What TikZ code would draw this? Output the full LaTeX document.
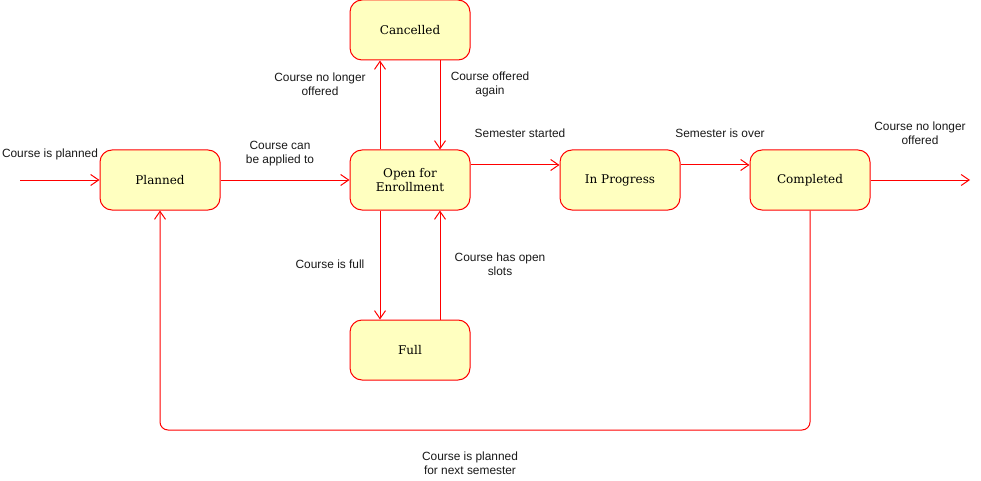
\documentclass[tikz,border=0pt]{standalone}
\usepackage{fontspec}
\setmainfont{DejaVu Serif}
\newfontfamily\lblfont{Liberation Sans}
\usetikzlibrary{arrows.meta}
\definecolor{stred}{HTML}{FF0000}
\definecolor{stfill}{HTML}{FFFFC0}
\tikzset{
  x=1pt, y=-1pt,
  state/.style={draw=stred, fill=stfill, line width=1pt, rounded corners=12pt,
    minimum width=120pt, minimum height=60pt, inner sep=0pt, align=center,
    font=\fontsize{12}{14}\selectfont},
  arr/.style={draw=stred, line width=1pt, -{Straight Barb[length=8pt,width=11pt]}},
  lbl/.style={align=center, inner sep=0pt, font=\lblfont\fontsize{11.9}{14}\selectfont, text=black!90}
}
\begin{document}
\begin{tikzpicture}
\useasboundingbox (0,0) rectangle (981,481);
\node[state] (plan) at (160,180) {Planned};
\node[state] (open) at (410,180) {Open for\\Enrollment};
\node[state] (canc) at (410,30) {Cancelled};
\node[state] (full) at (410,350) {Full};
\node[state] (prog) at (620,180) {In Progress};
\node[state] (comp) at (810,180) {Completed};
\coordinate (init) at (20,180);
\coordinate (fin) at (970,180);
\coordinate (bot) at (0,430);

\draw[arr] (init) -- (plan);
\draw[arr] (plan) -- (open);
\draw[arr] ([xshift=-30pt]open.north) -- ([xshift=-30pt]canc.south);
\draw[arr] ([xshift=30pt]canc.south) -- ([xshift=30pt]open.north);
\draw[arr] ([xshift=-30pt]open.south) -- ([xshift=-30pt]full.north);
\draw[arr] ([xshift=30pt]full.north) -- ([xshift=30pt]open.south);
\draw[arr] ([yshift=15pt]open.east) -- ([yshift=15pt]prog.west);
\draw[arr] ([yshift=15pt]prog.east) -- ([yshift=15pt]comp.west);
\draw[arr] (comp.east) -- (fin);
\draw[arr, rounded corners=8pt] (comp.south) -- (comp.south |- bot) -- (plan.south |- bot) -- (plan.south);

\node[lbl] (l1) at (50,154) {Course is planned};
\node[lbl] (l2) at (280,153.5) {Course can\\be applied to};
\node[lbl] (l3) at (320,84) {Course no longer\\offered};
\node[lbl] (l4) at (490,84) {Course offered\\again};
\node[lbl] (l5) at (520,133) {Semester started};
\node[lbl] (l6) at (720,133) {Semester is over};
\node[lbl] (l7) at (920,133.5) {Course no longer\\offered};
\node[lbl] (l8) at (330,264) {Course is full};
\node[lbl] (l9) at (500,264) {Course has open\\slots};
\node[lbl] (l10) at (470,463) {Course is planned\\for next semester};
\end{tikzpicture}
\end{document}
